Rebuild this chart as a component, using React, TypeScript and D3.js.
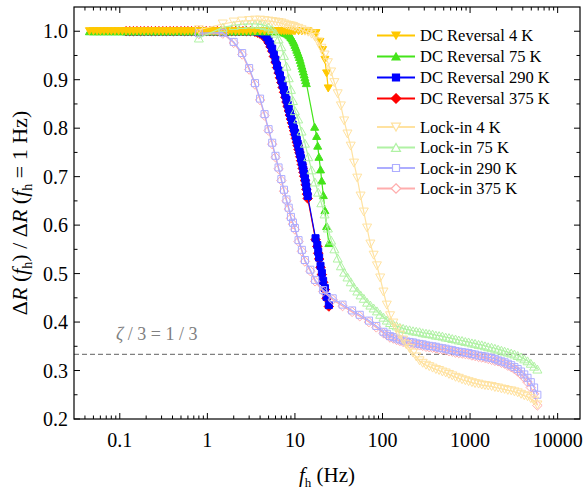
import React from 'react';
import * as d3 from 'd3';

// ---------- data ----------
// common low-frequency grid of the DC reversal measurements (plateau, normalised to 1)
const dcLowFreq = [
  0.045, 0.05, 0.055, 0.06, 0.066, 0.073, 0.08, 0.088, 0.097, 0.107,
  0.118, 0.13, 0.143, 0.157, 0.173, 0.19, 0.21, 0.23, 0.255, 0.28,
  0.31, 0.34, 0.375, 0.41, 0.45, 0.5, 0.55, 0.6, 0.66, 0.73,
  0.8, 0.88, 0.97, 1.07, 1.18, 1.3, 1.43, 1.57, 1.73, 1.9,
  2.1, 2.3, 2.55, 2.8, 3.1,
];
const dcLowVal = [
  1, 1, 1, 1, 1, 1, 1, 1, 1, 1,
  1, 1, 1, 1, 1, 1, 1, 1, 1, 1,
  1, 1, 1, 1, 1, 1, 1, 1, 1, 1,
  1, 1, 1, 1, 1, 1, 1, 1, 1, 1,
  1, 1, 1, 1, 1,
];
const dcLowStart4K = 0.045;
const dcLowStart75K = 0.045;
const dcLowStart290K = 0.118;
const dcLowStart375K = 0.118;

// DC reversal 4 K
const dc4Freq = [3.5, 4, 4.5, 5, 5.5, 6, 6.5, 7, 7.5, 8, 8.5, 9, 9.5, 10, 11, 12, 13, 14, 17.4, 19.3, 20.7, 22.0, 23.0, 24.0];
const dc4Val = [1, 1, 1, 1, 1, 1, 1, 1, 1, 1, 1, 1, 1, 1, 1, 1, 1, 1, 0.996, 0.978, 0.961, 0.941, 0.913, 0.882];

// DC reversal 75 K
const dc75Freq = [
  3.5, 4, 4.5, 5, 5.5, 6, 6.5,
  7, 7.25, 7.5, 7.75, 8, 8.25, 8.5, 8.75, 9, 9.25, 9.5, 9.75, 10, 10.25, 10.5, 10.75,
  11, 11.25, 11.5, 11.75, 12, 12.25, 12.5, 12.75, 13, 13.25, 13.5,
  16.8, 17.7, 18.2, 18.8, 19.6, 20.2, 21.1, 22.0, 23.0, 24.4,
];
const dc75Val = [
  1, 1, 1, 1, 1, 1, 1,
  1.0, 0.999, 0.998, 0.997, 0.996, 0.995, 0.993, 0.991, 0.988, 0.985, 0.981, 0.977, 0.972, 0.967, 0.962, 0.957,
  0.952, 0.947, 0.941, 0.935, 0.929, 0.923, 0.917, 0.911, 0.905, 0.899, 0.893,
  0.803, 0.784, 0.764, 0.741, 0.715, 0.692, 0.662, 0.631, 0.598, 0.563,
];

// DC reversal 290 K / 375 K (same frequencies)
const dcHotFreq = [
  3.5, 3.75, 4, 4.25, 4.5, 4.75, 5, 5.25, 5.5, 5.75,
  6, 6.25, 6.5, 6.75, 7, 7.25, 7.5, 7.75, 8, 8.25,
  8.5, 8.75, 9, 9.25, 9.5, 9.75, 10, 10.25, 10.5, 10.75,
  11, 11.25, 11.5, 11.75, 12, 12.25, 12.5, 12.75, 13, 13.25,
  13.5, 13.75, 14,
  17.2, 18.0, 18.45, 18.9, 19.6, 20.3, 21.0, 22.0, 23.0, 24.4,
];
const dc290Val = [
  1.0, 0.999, 0.998, 0.996, 0.993, 0.988, 0.981, 0.973, 0.964, 0.953,
  0.941, 0.929, 0.919, 0.909, 0.899, 0.889, 0.879, 0.869, 0.859, 0.849,
  0.840, 0.831, 0.823, 0.815, 0.807, 0.799, 0.791, 0.783, 0.776, 0.768,
  0.761, 0.753, 0.746, 0.738, 0.730, 0.722, 0.714, 0.706, 0.697, 0.688,
  0.679, 0.669, 0.660,
  0.573, 0.559, 0.545, 0.533, 0.516, 0.501, 0.485, 0.470, 0.452, 0.435,
];
const dc375Val = [
  0.999, 0.997, 0.995, 0.992, 0.988, 0.983, 0.976, 0.968, 0.959, 0.948,
  0.936, 0.925, 0.914, 0.904, 0.894, 0.884, 0.874, 0.864, 0.854, 0.845,
  0.836, 0.827, 0.819, 0.811, 0.803, 0.795, 0.787, 0.779, 0.771, 0.764,
  0.756, 0.749, 0.741, 0.733, 0.725, 0.717, 0.709, 0.701, 0.692, 0.683,
  0.674, 0.664, 0.655,
  0.570, 0.556, 0.542, 0.530, 0.513, 0.498, 0.482, 0.467, 0.449, 0.432,
];

// Lock-in 4 K / 75 K frequency grid
const lockinColdFreq = [
  0.8, 1.5, 2, 2.5, 3, 3.5, 4, 4.5, 5, 5.5,
  6, 6.5, 7, 7.5, 8, 8.5, 9, 9.5, 10, 10.9,
  11.9, 13, 14.2, 15.5, 16.9, 18.4, 20, 21.8, 23.8, 25.9,
  28.2, 30.8, 33.5, 36.5, 39.8, 43.4, 47.3, 51.5, 56.2, 61.2,
  66.7, 72.7, 79.2, 86.4, 94.1, 102.6, 112, 122, 133, 145,
  158, 172, 187, 204, 223, 243, 265, 288, 314, 342,
  373, 407, 443, 483, 527, 574, 626, 682, 743, 810,
  883, 962, 1050, 1140, 1250, 1360, 1480, 1610, 1760, 1920,
  2090, 2280, 2480, 2700, 2950, 3210, 3500, 3820, 4160, 4530,
  4940, 5390, 5870,
];
const lockin4Val = [
  1.003, 1.015, 1.019, 1.021, 1.022, 1.023, 1.023, 1.022, 1.021, 1.020,
  1.019, 1.018, 1.017, 1.015, 1.013, 1.012, 1.011, 1.010, 1.008, 1.006,
  1.003, 1.000, 0.998, 0.994, 0.988, 0.978, 0.965, 0.951, 0.935, 0.916,
  0.894, 0.871, 0.846, 0.815, 0.788, 0.763, 0.728, 0.697, 0.660, 0.627,
  0.594, 0.561, 0.538, 0.516, 0.491, 0.462, 0.435, 0.413, 0.398, 0.386,
  0.373, 0.363, 0.353, 0.345, 0.336, 0.328, 0.320, 0.315, 0.311, 0.308,
  0.305, 0.302, 0.300, 0.297, 0.295, 0.292, 0.289, 0.286, 0.284, 0.281,
  0.279, 0.277, 0.275, 0.273, 0.272, 0.270, 0.269, 0.268, 0.267, 0.265,
  0.264, 0.262, 0.261, 0.259, 0.258, 0.256, 0.254, 0.251, 0.248, 0.246,
  0.242, 0.237, 0.229,
];
const lockin75Val = [
  0.986, 1.008, 1.012, 1.014, 1.015, 1.015, 1.014, 1.012, 1.009, 1.004,
  0.996, 0.984, 0.968, 0.950, 0.928, 0.904, 0.880, 0.857, 0.836, 0.819,
  0.794, 0.769, 0.741, 0.714, 0.689, 0.668, 0.646, 0.623, 0.594, 0.569,
  0.551, 0.532, 0.516, 0.503, 0.493, 0.483, 0.472, 0.464, 0.456, 0.449,
  0.441, 0.435, 0.429, 0.423, 0.416, 0.410, 0.404, 0.399, 0.395, 0.392,
  0.389, 0.387, 0.385, 0.384, 0.382, 0.381, 0.380, 0.378, 0.377, 0.376,
  0.375, 0.373, 0.372, 0.371, 0.369, 0.368, 0.366, 0.365, 0.363, 0.362,
  0.360, 0.359, 0.357, 0.356, 0.354, 0.353, 0.351, 0.349, 0.348, 0.346,
  0.344, 0.342, 0.340, 0.338, 0.336, 0.334, 0.331, 0.328, 0.324, 0.320,
  0.315, 0.309, 0.303,
];

// Lock-in 290 K / 375 K frequency grid
const lockinHotFreq = [
  0.8, 1.5, 2, 2.5, 3, 3.5, 4, 4.5, 5, 5.5,
  6, 6.5, 7, 7.5, 8, 8.5, 9, 9.5, 10, 11,
  12, 13, 15, 17, 21, 27, 35, 45, 55, 70,
  85, 102.6, 112, 122, 133, 145, 158, 172, 187, 204,
  223, 243, 265, 288, 314, 342, 373, 407, 443, 483,
  527, 574, 626, 682, 743, 810, 883, 962, 1050, 1140,
  1250, 1360, 1480, 1610, 1760, 1920, 2090, 2280, 2480, 2700,
  2950, 3210, 3500, 3820, 4160, 4530, 4940, 5390, 5870,
];
const lockin290Val = [
  0.996, 0.997, 0.978, 0.955, 0.924, 0.893, 0.861, 0.829, 0.798, 0.770,
  0.743, 0.719, 0.695, 0.673, 0.653, 0.636, 0.617, 0.605, 0.594, 0.569,
  0.549, 0.528, 0.508, 0.487, 0.466, 0.449, 0.436, 0.424, 0.415, 0.403,
  0.392, 0.380, 0.376, 0.371, 0.369, 0.366, 0.364, 0.362, 0.360, 0.359,
  0.358, 0.356, 0.355, 0.354, 0.352, 0.351, 0.350, 0.349, 0.347, 0.346,
  0.345, 0.343, 0.342, 0.340, 0.339, 0.338, 0.337, 0.336, 0.334, 0.333,
  0.331, 0.330, 0.329, 0.327, 0.326, 0.324, 0.321, 0.319, 0.317, 0.314,
  0.311, 0.307, 0.303, 0.298, 0.292, 0.285, 0.276, 0.265, 0.250,
];
const lockin375Val = [
  0.994, 0.995, 0.976, 0.952, 0.921, 0.890, 0.858, 0.826, 0.795, 0.767,
  0.740, 0.716, 0.692, 0.670, 0.650, 0.633, 0.614, 0.602, 0.591, 0.566,
  0.546, 0.525, 0.505, 0.484, 0.463, 0.446, 0.433, 0.421, 0.412, 0.400,
  0.389, 0.377, 0.373, 0.368, 0.366, 0.363, 0.361, 0.359, 0.357, 0.356,
  0.355, 0.353, 0.352, 0.351, 0.349, 0.348, 0.347, 0.346, 0.344, 0.343,
  0.342, 0.340, 0.339, 0.337, 0.336, 0.335, 0.334, 0.333, 0.331, 0.330,
  0.328, 0.327, 0.326, 0.324, 0.322, 0.320, 0.319, 0.316, 0.314, 0.310,
  0.307, 0.303, 0.298, 0.292, 0.285, 0.276, 0.265, 0.252, 0.228,
];

const xTicks = [0.1, 1, 10, 100, 1000, 10000];
const xTickLabels = ['0.1', '1', '10', '100', '1000', '10000'];
const yTicks = [0.2, 0.3, 0.4, 0.5, 0.6, 0.7, 0.8, 0.9, 1.0];
const yTickLabels = ['0.2', '0.3', '0.4', '0.5', '0.6', '0.7', '0.8', '0.9', '1.0'];
const refLevel = 1 / 3;

type Pt = [number, number];
const zip = (f: number[], v: number[]): Pt[] => f.slice(0, Math.min(f.length, v.length)).map((d, i) => [d, v[i]]);
const low = (start: number): Pt[] => zip(dcLowFreq, dcLowVal).filter((p) => p[0] >= start);

type Shape = 'down' | 'up' | 'square' | 'diamond';
interface Series {
  label: string;
  color: string;
  shape: Shape;
  filled: boolean;
  data: Pt[];
}

const dcSeries: Series[] = [
  { label: 'DC Reversal 4 K', color: '#FFC800', shape: 'down', filled: true, data: [...low(dcLowStart4K), ...zip(dc4Freq, dc4Val)] },
  { label: 'DC Reversal 75 K', color: '#44E41A', shape: 'up', filled: true, data: [...low(dcLowStart75K), ...zip(dc75Freq, dc75Val)] },
  { label: 'DC Reversal 290 K', color: '#0000FF', shape: 'square', filled: true, data: [...low(dcLowStart290K), ...zip(dcHotFreq, dc290Val)] },
  { label: 'DC Reversal 375 K', color: '#FF0000', shape: 'diamond', filled: true, data: [...low(dcLowStart375K), ...zip(dcHotFreq, dc375Val)] },
];
const lockSeries: Series[] = [
  { label: 'Lock-in 4 K', color: '#FFE2A0', shape: 'down', filled: false, data: zip(lockinColdFreq, lockin4Val) },
  { label: 'Lock-in 75 K', color: '#B0F2A4', shape: 'up', filled: false, data: zip(lockinColdFreq, lockin75Val) },
  { label: 'Lock-in 290 K', color: '#ADADFF', shape: 'square', filled: false, data: zip(lockinHotFreq, lockin290Val) },
  { label: 'Lock-in 375 K', color: '#FFADAD', shape: 'diamond', filled: false, data: zip(lockinHotFreq, lockin375Val) },
];

function shapePath(shape: Shape, w: number): string {
  const h = w * 0.88;
  switch (shape) {
    case 'down':
      return `M${-w / 2},${-h / 2}L${w / 2},${-h / 2}L0,${h / 2}Z`;
    case 'up':
      return `M${-w / 2},${h / 2}L${w / 2},${h / 2}L0,${-h / 2}Z`;
    case 'square':
      return `M${-w / 2},${-w / 2}h${w}v${w}h${-w}Z`;
    default: {
      const r = (w / 2) * 1.35;
      return `M0,${-r}L${r},0L0,${r}L${-r},0Z`;
    }
  }
}
const markerSize = (s: Series) => {
  if (s.filled) return s.shape === 'square' ? 7 : s.shape === 'diamond' ? 7 : 8;
  return s.shape === 'square' ? 7 : s.shape === 'diamond' ? 7 : 9;
};

const FONT = "'Liberation Serif', 'Times New Roman', serif";

export default function App() {
  const W = 588, H = 491;
  const L = 74, R = 580, T = 7, B = 419;
  const x = d3.scaleLog().domain([0.03, 18000]).range([L, R]);
  const y = d3.scaleLinear().domain([0.2, 1.05]).range([B, T]);
  const line = d3.line<Pt>().x((d) => x(d[0])).y((d) => y(d[1]));

  const xMinor: number[] = [];
  for (let e = -2; e <= 4; e++) {
    for (let k = 2; k <= 9; k++) {
      const v = k * Math.pow(10, e);
      if (v > 0.03 && v < 18000) xMinor.push(v);
    }
  }
  const yMinor = [0.25, 0.35, 0.45, 0.55, 0.65, 0.75, 0.85, 0.95];

  const drawOrder: Series[] = [...dcSeries].reverse().concat([...lockSeries].reverse());

  const renderSeries = (s: Series, i: number) => {
    const w = markerSize(s);
    const p = shapePath(s.shape, w);
    return (
      <g key={'s' + i}>
        <path d={line(s.data) || ''} fill="none" stroke={s.color} strokeWidth={1.2} />
        {s.data.map((d, j) => (
          <path
            key={j}
            d={p}
            transform={`translate(${x(d[0])},${y(d[1])})`}
            fill={s.filled ? s.color : 'none'}
            stroke={s.color}
            strokeWidth={1}
          />
        ))}
      </g>
    );
  };

  const legendRows = [
    ...dcSeries.map((s, i) => ({ s, cy: 35.5 + i * 21 })),
    ...lockSeries.map((s, i) => ({ s, cy: 127 + i * 20.5 })),
  ];

  return (
    <svg
      width={W}
      height={H}
      style={{ position: 'absolute', left: 0, top: 0, background: '#ffffff' }}
      fontFamily={FONT}
    >
      <rect x={0} y={0} width={W} height={H} fill="#ffffff" />
      {/* reference level */}
      <line x1={L} x2={R} y1={y(refLevel)} y2={y(refLevel)} stroke="#808080" strokeWidth={1.2} strokeDasharray="5,3" />
      <text x={116} y={y(refLevel) - 14} fontSize={18} fill="#808080">
        <tspan fontStyle="italic">ζ</tspan>
        <tspan> / 3 = 1 / 3</tspan>
      </text>

      {drawOrder.map(renderSeries)}

      {/* frame */}
      <rect x={L} y={T} width={R - L} height={B - T} fill="none" stroke="#000" strokeWidth={1.2} />

      {/* x ticks */}
      {xTicks.map((t) => (
        <g key={'xt' + t}>
          <line x1={x(t)} x2={x(t)} y1={B} y2={B - 6} stroke="#000" />
          <line x1={x(t)} x2={x(t)} y1={T} y2={T + 6} stroke="#000" />
        </g>
      ))}
      {xMinor.map((t) => (
        <g key={'xm' + t}>
          <line x1={x(t)} x2={x(t)} y1={B} y2={B - 3.5} stroke="#000" />
          <line x1={x(t)} x2={x(t)} y1={T} y2={T + 3.5} stroke="#000" />
        </g>
      ))}
      {xTicks.map((t, i) => (
        <text key={'xl' + t} x={x(t)} y={B + 28} fontSize={20} textAnchor="middle" fill="#000">
          {xTickLabels[i]}
        </text>
      ))}

      {/* y ticks */}
      {yTicks.map((t) => (
        <g key={'yt' + t}>
          <line x1={L} x2={L + 6} y1={y(t)} y2={y(t)} stroke="#000" />
          <line x1={R} x2={R - 6} y1={y(t)} y2={y(t)} stroke="#000" />
        </g>
      ))}
      {yMinor.map((t) => (
        <g key={'ym' + t}>
          <line x1={L} x2={L + 3.5} y1={y(t)} y2={y(t)} stroke="#000" />
          <line x1={R} x2={R - 3.5} y1={y(t)} y2={y(t)} stroke="#000" />
        </g>
      ))}
      {yTicks.map((t, i) => (
        <text key={'yl' + t} x={L - 6} y={y(t)} dy="0.35em" fontSize={20} textAnchor="end" fill="#000">
          {yTickLabels[i]}
        </text>
      ))}

      {/* axis titles */}
      <text x={(L + R) / 2} y={482} fontSize={21} textAnchor="middle" fill="#000">
        <tspan fontStyle="italic">f</tspan>
        <tspan fontSize={13} dy={5}>h</tspan>
        <tspan dy={-5}> (Hz)</tspan>
      </text>
      <text transform={`translate(27,${(T + B) / 2}) rotate(-90)`} fontSize={22} textAnchor="middle" fill="#000">
        <tspan>Δ</tspan>
        <tspan fontStyle="italic">R</tspan>
        <tspan> (</tspan>
        <tspan fontStyle="italic">f</tspan>
        <tspan fontSize={14} dy={5}>h</tspan>
        <tspan dy={-5}>) / Δ</tspan>
        <tspan fontStyle="italic">R</tspan>
        <tspan> (</tspan>
        <tspan fontStyle="italic">f</tspan>
        <tspan fontSize={14} dy={5}>h</tspan>
        <tspan dy={-5}> = 1 Hz)</tspan>
      </text>

      {/* legend */}
      {legendRows.map(({ s, cy }, i) => (
        <g key={'lg' + i}>
          <line x1={377} x2={415} y1={cy} y2={cy} stroke={s.color} strokeWidth={2} />
          <path
            d={shapePath(s.shape, markerSize(s))}
            transform={`translate(396,${cy})`}
            fill={s.filled ? s.color : '#ffffff'}
            stroke={s.color}
            strokeWidth={1.2}
          />
          <text x={420} y={cy} dy="0.34em" fontSize={16.5} fill="#000">
            {s.label}
          </text>
        </g>
      ))}
    </svg>
  );
}
